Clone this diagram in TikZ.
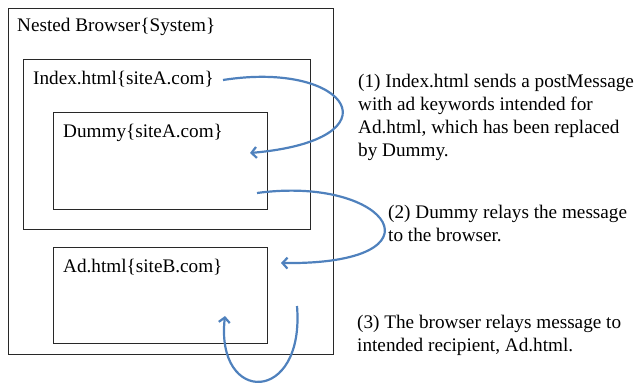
\documentclass[tikz,border=0pt]{standalone}
\usepackage{fontspec}
\setmainfont{Liberation Serif}
\usetikzlibrary{arrows.meta, positioning}
\definecolor{msgblue}{RGB}{79,129,189}
\definecolor{boxgray}{RGB}{40,40,40}

\begin{document}
\begin{tikzpicture}[x=1bp, y=-1bp,
        every node/.style={font=\fontsize{19.2bp}{23bp}\selectfont, inner sep=0pt},
        frame/.style={draw=boxgray, line width=1.1bp, anchor=north west},
        msg/.style={draw=msgblue, line width=2.2bp, -{Straight Barb[length=5bp, width=11bp, line width=2.2bp]}}]
        \useasboundingbox (0,0) rectangle (639,383);

        % frames
        \node[frame, minimum width=325bp, minimum height=346bp] (browser) at (8,8) {};
        \node[frame, minimum width=287bp, minimum height=170bp] (index) at (23,59) {};
        \node[frame, minimum width=214bp, minimum height=97bp] (dummy) at (53,112) {};
        \node[frame, minimum width=214bp, minimum height=96bp] (ad) at (53,247) {};

        \node[anchor=base west] (browserlbl) at (17,31) {Nested Browser\{System\}};
        \node[anchor=base west] (indexlbl) at (33,84) {Index.html\{siteA.com\}};
        \node[anchor=base west] (dummylbl) at (63,137) {Dummy\{siteA.com\}};
        \node[anchor=base west] (adlbl) at (63,272) {Ad.html\{siteB.com\}};

        % message steps (base = last line)
        \node[anchor=base west, align=left] (step1) at (358,156) {(1) Index.html sends a postMessage\\with ad keywords intended for\\Ad.html, which has been replaced\\by Dummy.};
        \node[anchor=base west, align=left] (step2) at (388,241) {(2) Dummy relays the message\\to the browser.};
        \node[anchor=base west, align=left] (step3) at (357,351) {(3) The browser relays message to\\intended recipient, Ad.html.};

        \coordinate (out1) at (223,80);
        \coordinate (in1) at (250,153);
        \coordinate (out2) at (257,193);
        \coordinate (in2) at (281,263);
        \coordinate (out3) at (297,306);
        \coordinate (in3) at (225,316);

        \draw[msg] (out1) .. controls (350,60) and (400,140) .. (in1);
        \draw[msg] (out2) .. controls (390,175) and (450,265) .. (in2);
        \draw[msg] (out3) .. controls (305,405) and (215,405) .. (in3);
    \end{tikzpicture}
\end{document}
